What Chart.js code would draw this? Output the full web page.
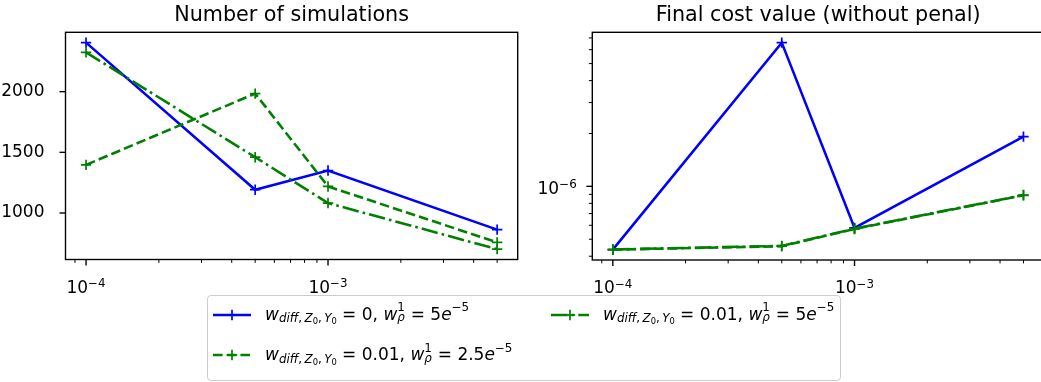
<!DOCTYPE html>
<html>
<head>
<meta charset="utf-8">
<script src="https://cdn.jsdelivr.net/npm/chart.js@4/dist/chart.umd.min.js"></script>
<style>
  html, body { margin: 0; padding: 0; background: #fff; overflow: hidden; width: 1041px; height: 382px; }
  canvas { position: absolute; top: 0; }
  #simsChart { left: 0; }
  #costChart { left: 520px; }
  #legend {
    position: absolute; left: 207px; top: 295px; width: 632px; height: 84px;
    border: 1px solid #cccccc; border-radius: 4px; background: rgba(255,255,255,0.8);
    font-family: "DejaVu Sans", sans-serif; font-size: 17px; color: #000;
  }
  .entry { position: absolute; white-space: nowrap; line-height: 1; }
  .entry svg { position: absolute; left: 0; top: -7px; }
  .entry .txt { position: absolute; top: -9px; white-space: nowrap; line-height: 1; }
  .sub { font-size: 70%; position: relative; top: 2.7px; }
  .sub .sub2 { font-size: 70%; position: relative; top: 1.6px; }
  .sup { font-size: 70%; position: relative; top: -8.7px; }
  .ss { display: inline-block; position: relative; width: 8px; height: 0; font-size: 70%; }
  .ss .s1 { position: absolute; left: 0; bottom: 5.5px; line-height: 1; }
  .ss .s2 { position: absolute; left: 0; top: -7.5px; line-height: 1; }
  i { font-style: italic; }
</style>
</head>
<body>
<canvas id="simsChart" width="530" height="300"></canvas>
<canvas id="costChart" width="545" height="300"></canvas>
<div id="legend"></div>
<script>
// Step sizes used in the runs (x axis, log scale)
const stepSizes = [1e-4, 5e-4, 1e-3, 5e-3];

// Number of simulations per configuration
const simsW0_5e5 = [2404, 1192, 1350, 863];
const simsW001_25e5 = [1397, 1984, 1219, 758];
const simsW001_5e5 = [2324, 1460, 1082, 702];

// Final cost value (without penalisation)
const costW0_5e5 = [4.36e-7, 6.58e-6, 5.80e-7, 1.92e-6];
const costW001_25e5 = [4.36e-7, 4.56e-7, 5.72e-7, 8.89e-7];
const costW001_5e5 = [4.37e-7, 4.58e-7, 5.74e-7, 8.92e-7];

// Tick positions and labels (log labels are drawn as 10 with a raised exponent)
const xTickValues = [9e-5, 1e-4, 2e-4, 3e-4, 4e-4, 5e-4, 6e-4, 7e-4, 8e-4, 9e-4, 1e-3, 2e-3, 3e-3, 4e-3, 5e-3];
const xMajorTicks = [1e-4, 1e-3];
const xMajorExponents = ['\u22124', '\u22123'];
const simsYTicks = [1000, 1500, 2000];
const simsYLabels = ['1000', '1500', '2000'];
const costYTickValues = [4e-7, 5e-7, 6e-7, 7e-7, 8e-7, 9e-7, 1e-6, 2e-6, 3e-6, 4e-6, 5e-6, 6e-6, 7e-6];
const costYMajorTicks = [1e-6];
const costYMajorExponents = ['\u22126'];

const seriesLabels = ['w_diff,Z0,Y0 = 0, w_rho^1 = 5e-5', 'w_diff,Z0,Y0 = 0.01, w_rho^1 = 2.5e-5', 'w_diff,Z0,Y0 = 0.01, w_rho^1 = 5e-5'];

const BLUE = '#0000ff';
const GREEN = '#008000';
const LW = 2.58;
const DASHED = [9.6, 4.1];
const DASHDOT = [16.5, 4.1, 2.6, 4.1];
const FONT = '"DejaVu Sans"';

const sameVal = (a, b) => Math.abs(a - b) <= Math.abs(b) * 1e-9;
const isMajor = (v, majors) => majors.some(m => sameVal(v, m));
const labelFor = (v, majors, labels) => {
  const i = majors.findIndex(m => sameVal(v, m));
  return i >= 0 ? labels[i] : '';
};

// Axis limits with 5% margins around the data
function linLimits(arrays) {
  const all = arrays.flat();
  const lo = Math.min(...all), hi = Math.max(...all), p = (hi - lo) * 0.05;
  return [lo - p, hi + p];
}
function logLimits(arrays) {
  const all = arrays.flat().map(Math.log10);
  const lo = Math.min(...all), hi = Math.max(...all), p = (hi - lo) * 0.05;
  return [Math.pow(10, lo - p), Math.pow(10, hi + p)];
}

const toPoints = ys => stepSizes.map((x, i) => ({ x, y: ys[i] }));

function makeDatasets(a, b, c) {
  const common = { pointStyle: 'cross', pointRadius: 5.2, pointHoverRadius: 5.2, pointBorderWidth: 1.7, borderWidth: LW, tension: 0, fill: false };
  return [
    Object.assign({ label: seriesLabels[0], data: toPoints(a), borderColor: BLUE, pointBorderColor: BLUE, backgroundColor: BLUE, order: 3 }, common),
    Object.assign({ label: seriesLabels[1], data: toPoints(b), borderColor: GREEN, pointBorderColor: GREEN, backgroundColor: GREEN, borderDash: DASHED, order: 2 }, common),
    Object.assign({ label: seriesLabels[2], data: toPoints(c), borderColor: GREEN, pointBorderColor: GREEN, backgroundColor: GREEN, borderDash: DASHDOT, order: 1 }, common)
  ];
}

// "10" followed by a smaller raised exponent; align is 'center' or 'right'
function drawPow(ctx, x, baseline, align, exponent) {
  ctx.font = '17px ' + FONT;
  const wBase = ctx.measureText('10').width;
  ctx.font = '11.9px ' + FONT;
  const wExp = ctx.measureText(exponent).width;
  const total = wBase + wExp;
  const x0 = align === 'right' ? x - total : x - total / 2;
  ctx.textAlign = 'left';
  ctx.textBaseline = 'alphabetic';
  ctx.font = '17px ' + FONT;
  ctx.fillText('10', x0, baseline);
  ctx.font = '11.9px ' + FONT;
  ctx.fillText(exponent, x0 + wBase, baseline - 5.4);
}

// Frame, outward tick marks, log tick labels and title
const framePlugin = {
  id: 'frame',
  afterDraw(chart, args, opts) {
    const { ctx, chartArea: ca } = chart;
    const xs = chart.scales.x, ys = chart.scales.y;
    ctx.save();
    ctx.strokeStyle = '#000';
    ctx.fillStyle = '#000';
    xs.ticks.forEach(t => {
      const major = isMajor(t.value, opts.xMajor);
      const px = xs.getPixelForValue(t.value);
      ctx.lineWidth = major ? 1.38 : 1.0;
      ctx.beginPath();
      ctx.moveTo(px, ca.bottom);
      ctx.lineTo(px, ca.bottom + (major ? 6 : 3.4));
      ctx.stroke();
      const exp = labelFor(t.value, opts.xMajor, opts.xExp);
      if (exp) drawPow(ctx, px, ca.bottom + 33, 'center', exp);
    });
    ys.ticks.forEach(t => {
      const major = isMajor(t.value, opts.yMajor);
      const py = ys.getPixelForValue(t.value);
      ctx.lineWidth = major ? 1.38 : 1.0;
      ctx.beginPath();
      ctx.moveTo(ca.left, py);
      ctx.lineTo(ca.left - (major ? 6 : 3.4), py);
      ctx.stroke();
      if (opts.yExp) {
        const exp = labelFor(t.value, opts.yMajor, opts.yExp);
        if (exp) drawPow(ctx, ca.left - 15.6, py + 7.5, 'right', exp);
      }
    });
    ctx.lineWidth = 1.38;
    ctx.strokeRect(ca.left, ca.top, ca.right - ca.left, ca.bottom - ca.top);
    ctx.font = '20.7px ' + FONT;
    ctx.textAlign = 'center';
    ctx.textBaseline = 'alphabetic';
    ctx.fillText(opts.title, (ca.left + ca.right) / 2, 21);
    ctx.restore();
  }
};

const tickFont = { family: 'DejaVu Sans', size: 17 };
const [xMin, xMax] = logLimits([stepSizes]);

function xScale(h) {
  return {
    type: 'logarithmic', min: xMin, max: xMax,
    grid: { display: false }, border: { display: false },
    afterBuildTicks: s => { s.ticks = xTickValues.map(v => ({ value: v, major: isMajor(v, xMajorTicks) })); },
    afterFit: s => { s.height = h; },
    ticks: { font: tickFont, color: '#000', autoSkip: false, maxRotation: 0, minRotation: 0, callback: () => '' }
  };
}

Chart.defaults.font.family = 'DejaVu Sans';

const [simsMin, simsMax] = linLimits([simsW0_5e5, simsW001_25e5, simsW001_5e5]);
new Chart(document.getElementById('simsChart'), {
  type: 'line',
  data: { datasets: makeDatasets(simsW0_5e5, simsW001_25e5, simsW001_5e5) },
  options: {
    responsive: false, animation: false, devicePixelRatio: 1,
    layout: { padding: { top: 32.3, left: 0, right: 12.3, bottom: 0 } },
    plugins: { legend: { display: false }, tooltip: { enabled: false },
      frame: { title: 'Number of simulations', xMajor: xMajorTicks, xExp: xMajorExponents, yMajor: simsYTicks } },
    scales: {
      x: xScale(40.5),
      y: {
        type: 'linear', min: simsMin, max: simsMax,
        grid: { display: false }, border: { display: false },
        afterBuildTicks: s => { s.ticks = simsYTicks.map(v => ({ value: v })); },
        afterFit: s => { s.width = 65.5; },
        ticks: { font: tickFont, color: '#000', padding: 13,
          callback: v => labelFor(v, simsYTicks, simsYLabels) }
      }
    }
  },
  plugins: [framePlugin]
});

const [costMin, costMax] = logLimits([costW0_5e5, costW001_25e5, costW001_5e5]);
new Chart(document.getElementById('costChart'), {
  type: 'line',
  data: { datasets: makeDatasets(costW0_5e5, costW001_25e5, costW001_5e5) },
  options: {
    responsive: false, animation: false, devicePixelRatio: 1,
    layout: { padding: { top: 32.3, left: 0, right: 21, bottom: 0 } },
    plugins: { legend: { display: false }, tooltip: { enabled: false },
      frame: { title: 'Final cost value (without penal)', xMajor: xMajorTicks, xExp: xMajorExponents,
        yMajor: costYMajorTicks, yExp: costYMajorExponents } },
    scales: {
      x: xScale(40),
      y: {
        type: 'logarithmic', min: costMin, max: costMax,
        grid: { display: false }, border: { display: false },
        afterBuildTicks: s => { s.ticks = costYTickValues.map(v => ({ value: v, major: isMajor(v, costYMajorTicks) })); },
        afterFit: s => { s.width = 72.3; },
        ticks: { font: tickFont, color: '#000', autoSkip: false, callback: () => '' }
      }
    }
  },
  plugins: [framePlugin]
});

// Legend with math-style labels
function handleSvg(color, dash) {
  const da = dash ? ` stroke-dasharray="${dash.join(' ')}"` : '';
  return `<svg width="38" height="14" viewBox="0 0 38 14"><line x1="0" y1="7" x2="38" y2="7" stroke="${color}" stroke-width="${LW}"${da}/>` +
    `<line x1="13.8" y1="7" x2="24.2" y2="7" stroke="${color}" stroke-width="1.7"/><line x1="19" y1="1.8" x2="19" y2="12.2" stroke="${color}" stroke-width="1.7"/></svg>`;
}
function mathLabel(wdiff, wrho) {
  return `<i>w</i><span class="sub"><i>diff</i>,\u2009<i>Z</i><span class="sub2">0</span>,\u2009<i>Y</i><span class="sub2">0</span></span> = ${wdiff}, ` +
    `<i>w</i><span class="ss"><span class="s1">1</span><span class="s2"><i>\u03C1</i></span></span> = ${wrho}<i>e</i><span class="sup">\u22125</span>`;
}
const legendEntries = [
  { color: BLUE, dash: null, wdiff: '0', wrho: '5', left: 5, top: 18.7 },
  { color: GREEN, dash: DASHED, wdiff: '0.01', wrho: '2.5', left: 5, top: 59.3 },
  { color: GREEN, dash: DASHDOT, wdiff: '0.01', wrho: '5', left: 343, top: 18.7 }
];
const legendEl = document.getElementById('legend');
legendEntries.forEach(e => {
  const d = document.createElement('div');
  d.className = 'entry';
  d.style.left = e.left + 'px';
  d.style.top = e.top + 'px';
  d.innerHTML = handleSvg(e.color, e.dash) + `<span class="txt" style="left:52px">${mathLabel(e.wdiff, e.wrho)}</span>`;
  legendEl.appendChild(d);
});
</script>
</body>
</html>
